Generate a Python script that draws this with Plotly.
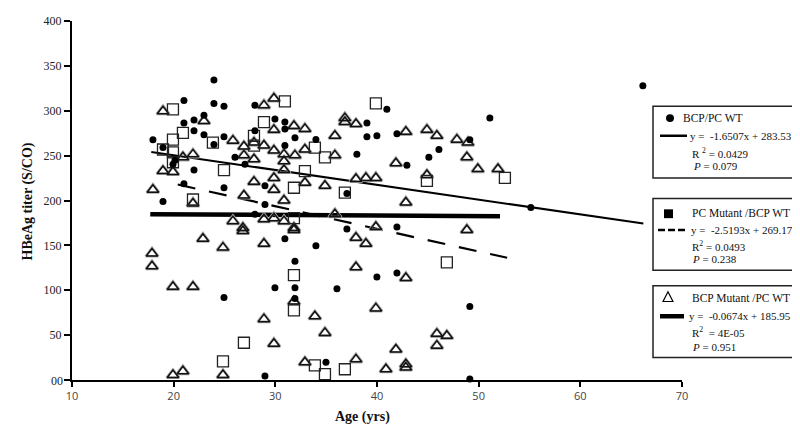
import plotly.graph_objects as go

# ---------------- data ----------------
# BCP/PC WT (filled dots)
wt_age = [23.96, 21.01, 23.96, 24.95, 27.99, 21.01, 22.0, 22.98, 22.0, 22.98,
          24.95, 17.96, 18.95, 29.96, 30.94, 30.94, 27.99, 31.93, 30.94, 26.03,
          27.01, 22.0, 28.98, 21.01, 24.95, 18.95, 28.98, 27.99, 30.94, 20.13,
          23.96, 19.93, 40.97, 51.10, 39.01, 39.01, 39.99, 41.96, 33.99, 49.13,
          46.09, 38.02, 45.10, 42.94, 37.04, 37.04, 41.96, 31.93, 29.96, 31.93,
          24.95, 31.93, 28.98, 33.99, 36.06, 39.99, 41.96, 49.13, 34.98, 49.13,
          55.13, 66.15]
wt_titer = [334.4, 311.5, 308.2, 304.9, 306.0, 286.3, 289.6, 295.1, 277.6, 273.2,
            271.0, 267.8, 259.0, 290.7, 287.4, 279.8, 277.6, 269.9, 261.2, 248.1,
            240.4, 233.9, 216.4, 218.6, 214.2, 198.9, 195.6, 184.7, 157.4, 244.8,
            262.3, 240.4, 301.6, 291.8, 286.3, 271.0, 272.1, 274.3, 268.0, 267.8,
            256.8, 251.4, 248.1, 239.3, 207.7, 168.3, 170.5, 132.2, 102.7, 102.7,
            91.8, 90.7, 4.4, 149.7, 101.6, 114.8, 119.1, 82.0, 19.7, 1.0,
            192.3, 327.9]

# PC Mutant / BCP WT (open squares)
pcm_age = [19.93, 30.94, 28.88, 20.91, 19.93, 18.95, 19.93, 19.93, 23.86, 27.90,
           27.90, 24.95, 31.83, 21.90, 31.83, 39.89, 33.89, 34.88, 32.91, 36.84,
           44.91, 52.58, 31.83, 31.83, 26.91, 24.85, 46.87, 33.89, 34.88, 36.84]
pcm_titer = [301.6, 310.4, 287.4, 275.4, 267.8, 256.8, 253.6, 242.6, 264.5, 272.1,
             261.2, 233.9, 214.2, 201.1, 180.3, 308.2, 259.0, 248.1, 232.8, 208.7,
             221.9, 225.1, 116.9, 77.6, 41.5, 20.8, 131.1, 16.4, 6.6, 12.0]

# BCP Mutant / PC WT (open triangles)
bcpm_age = [18.95, 29.86, 28.88, 22.98, 31.83, 29.86, 25.83, 26.91, 27.90, 28.88,
            29.86, 30.85, 20.91, 21.90, 26.91, 27.90, 30.85, 30.85, 18.95, 19.93,
            29.86, 27.90, 17.96, 29.86, 26.91, 30.85, 21.90, 25.83, 26.81, 28.88,
            29.86, 30.85, 31.83, 22.88, 36.84, 36.84, 37.93, 32.91, 35.86, 42.84,
            44.91, 45.89, 47.86, 48.94, 32.91, 31.93, 35.86, 41.86, 48.84, 49.92,
            51.90, 32.91, 34.88, 37.93, 38.91, 39.89, 44.91, 42.84, 35.86, 31.83,
            39.89, 48.84, 37.93, 38.91, 26.81, 24.85, 28.88, 17.87, 17.87, 19.93,
            21.90, 31.83, 28.88, 29.86, 19.93, 20.91, 24.85, 37.93, 42.84, 39.89,
            33.89, 34.88, 45.89, 46.87, 45.89, 41.86, 32.91, 37.93, 40.88, 42.84,
            42.84]
bcpm_titer = [299.5, 313.7, 306.0, 288.5, 283.1, 278.7, 266.7, 260.1, 264.5, 261.2,
              255.7, 251.4, 248.1, 251.4, 250.3, 245.9, 243.7, 233.9, 232.8, 231.7,
              225.1, 220.8, 212.0, 212.0, 205.5, 200.0, 196.7, 177.0, 169.4, 179.2,
              180.3, 177.0, 169.4, 157.4, 291.8, 287.4, 285.2, 279.8, 272.1, 276.5,
              278.7, 272.1, 267.8, 264.5, 256.8, 250.3, 250.3, 241.5, 248.1, 235.0,
              235.0, 219.7, 216.4, 224.0, 225.1, 225.1, 228.4, 197.8, 184.7, 167.2,
              170.5, 167.2, 158.5, 151.9, 166.1, 147.5, 151.9, 141.0, 126.8, 103.8,
              103.8, 87.4, 67.8, 40.4, 5.5, 9.8, 5.5, 125.7, 113.7, 79.8,
              71.0, 52.5, 51.4, 49.2, 38.3, 33.9, 19.7, 23.0, 12.0, 17.5,
              14.0]

# regression lines: slope, intercept, age span
wt_fit = (-1.6507, 283.53)
wt_span = [17.8, 66.2]
pcm_fit = (-2.5193, 269.17)
pcm_span = [20.4, 52.8]
bcpm_fit = (-0.0674, 185.95)
bcpm_span = [17.7, 52.1]

x_ticks = [10, 20, 30, 40, 50, 60, 70]
y_ticks = [0, 50, 100, 150, 200, 250, 300, 350, 400]
y_ticktext = [" ", "50", "100", "150", "200", "250", "300", "350", "400"]
y_origin_label = "00"

legend_titles = ["BCP/PC WT", "PC Mutant /BCP WT", "BCP Mutant /PC WT"]
legend_eqs = ["y =  -1.6507x + 283.53", "y =  -2.5193x + 269.17", "y =  -0.0674x + 185.95"]
legend_r2 = ["R <sup>2</sup> = 0.0429", "R<sup>2</sup> = 0.0493", "R<sup>2</sup>  = 4E-05"]
legend_p = ["<i>P</i> = 0.079", "<i>P</i> = 0.238", "<i>P</i> = 0.951"]

# ---------------- figure ----------------
SERIF = "Liberation Serif"
L, R, T, B = 64, 126, 6, 53
W, H = 800, 425
PW, PH = W - L - R, H - T - B


def px(x):
    return (x - L) / PW


def py(y):
    return (H - B - y) / PH


def fit_line(fit, span):
    m, c = fit
    return span, [m * v + c for v in span]


fig = go.Figure()

fx, fy = fit_line(wt_fit, wt_span)
fig.add_trace(go.Scatter(x=fx, y=fy, mode="lines", line=dict(color="black", width=2)))
fx, fy = fit_line(bcpm_fit, bcpm_span)
fig.add_trace(go.Scatter(x=fx, y=fy, mode="lines", line=dict(color="black", width=4.5)))
fx, fy = fit_line(pcm_fit, pcm_span)
fig.add_trace(go.Scatter(x=fx, y=fy, mode="lines",
                         line=dict(color="black", width=2.2, dash="18px,14px")))

fig.add_trace(go.Scatter(x=bcpm_age, y=bcpm_titer, mode="markers", cliponaxis=False,
                         marker=dict(symbol="triangle-up-open", size=11, color="#a8a8a8",
                                     line=dict(width=2.6))))
fig.add_trace(go.Scatter(x=bcpm_age, y=bcpm_titer, mode="markers", cliponaxis=False,
                         marker=dict(symbol="triangle-up-open", size=10, color="#111",
                                     line=dict(width=1.5))))
fig.add_trace(go.Scatter(x=pcm_age, y=pcm_titer, mode="markers", cliponaxis=False,
                         marker=dict(symbol="square-open", size=11, color="#222",
                                     line=dict(width=1.3))))
fig.add_trace(go.Scatter(x=wt_age, y=wt_titer, mode="markers", cliponaxis=False,
                         marker=dict(symbol="circle", size=7, color="black")))

shapes = []
annotations = []

# legend boxes
boxes = [(93, 166), (187, 260), (276, 349)]
for (top, bot) in boxes:
    shapes.append(dict(type="rect", xref="paper", yref="paper",
                       x0=px(645), x1=px(796), y0=py(bot), y1=py(top),
                       line=dict(color="#222", width=1.5), fillcolor="white", layer="above"))

# legend symbols
shapes.append(dict(type="circle", xref="paper", yref="paper",
                   x0=px(658), x1=px(666), y0=py(109), y1=py(101),
                   fillcolor="black", line=dict(color="black", width=0)))
shapes.append(dict(type="line", xref="paper", yref="paper",
                   x0=px(652), x1=px(679), y0=py(123), y1=py(123),
                   line=dict(color="black", width=2.5)))
shapes.append(dict(type="rect", xref="paper", yref="paper",
                   x0=px(656), x1=px(665), y0=py(207), y1=py(198),
                   fillcolor="black", line=dict(color="black", width=0)))
shapes.append(dict(type="line", xref="paper", yref="paper",
                   x0=px(650), x1=px(680), y0=py(219), y1=py(219),
                   line=dict(color="black", width=2.5, dash="7px,3px")))
tri = "M {:.4f} {:.4f} L {:.4f} {:.4f} L {:.4f} {:.4f} Z".format(
    px(655), py(292), px(665), py(292), px(660), py(282))
shapes.append(dict(type="path", xref="paper", yref="paper", path=tri,
                   line=dict(color="black", width=1.2)))
shapes.append(dict(type="line", xref="paper", yref="paper",
                   x0=px(652), x1=px(676), y0=py(307), y1=py(307),
                   line=dict(color="black", width=4.5)))

text_rows = [
    (legend_titles[0], 673, 105, 11.5), (legend_eqs[0], 680, 123, 11), (legend_r2[0], 682, 141, 11), (legend_p[0], 683, 154, 11),
    (legend_titles[1], 682, 202, 11.5), (legend_eqs[1], 681, 219, 11), (legend_r2[1], 682, 235, 11), (legend_p[1], 682, 249, 11),
    (legend_titles[2], 682, 288, 11.5), (legend_eqs[2], 679, 307, 11), (legend_r2[2], 682, 323, 11), (legend_p[2], 682, 338, 11),
]
for txt, x, y, fs in text_rows:
    annotations.append(dict(text=txt, xref="paper", yref="paper", x=px(x), y=py(y),
                            xanchor="left", yanchor="middle", showarrow=False,
                            font=dict(family=SERIF, size=fs, color="#111")))

annotations.append(dict(text=y_origin_label, xref="paper", yref="paper", x=px(57), y=py(373),
                        xanchor="right", yanchor="middle", showarrow=False,
                        font=dict(family=SERIF, size=12, color="#222")))
annotations.append(dict(text="<b>HBeAg titer (S/CO)</b>", xref="paper", yref="paper",
                        x=px(20), y=py(190), textangle=-90, showarrow=False,
                        xanchor="center", yanchor="middle",
                        font=dict(family=SERIF, size=14, color="#111")))
annotations.append(dict(text="<b>Age (yrs)</b>", xref="paper", yref="paper",
                        x=px(354), y=py(410), showarrow=False,
                        xanchor="center", yanchor="middle",
                        font=dict(family=SERIF, size=14, color="#111")))

fig.update_layout(
    width=W, height=H,
    margin=dict(l=L, r=R, t=T, b=B, pad=0),
    paper_bgcolor="white", plot_bgcolor="white",
    showlegend=False,
    shapes=shapes, annotations=annotations,
    xaxis=dict(range=[10, 70], tickvals=x_ticks, showgrid=False, zeroline=False,
               showline=True, linecolor="black", linewidth=2,
               ticks="outside", ticklen=5, tickwidth=2, tickcolor="black",
               ticklabeloverflow="allow",
               tickfont=dict(family="Open Sans", size=11, color="#444")),
    yaxis=dict(range=[0, 400], tickvals=y_ticks, ticktext=y_ticktext,
               showgrid=False, zeroline=False,
               showline=True, linecolor="black", linewidth=2,
               ticks="outside", ticklen=6, tickwidth=2, tickcolor="black",
               ticklabeloverflow="allow",
               tickfont=dict(family=SERIF, size=12, color="#222")),
)

fig.write_html("out.html")
